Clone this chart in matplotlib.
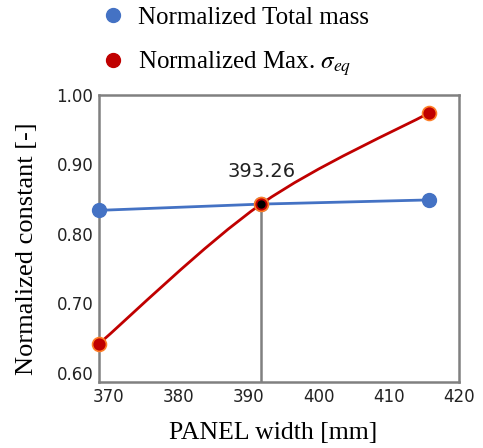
import numpy as np
import matplotlib
matplotlib.use('Agg')
import matplotlib.pyplot as plt
from matplotlib.lines import Line2D
from matplotlib.path import Path
from matplotlib.patches import PathPatch

plt.rcParams['font.family'] = ['Liberation Serif', 'DejaVu Serif']
plt.rcParams['mathtext.fontset'] = 'stix'

# data
width = [368.7, 391.8, 415.7]
total_mass = [0.834, 0.843, 0.849]
max_seq = [0.642, 0.843, 0.974]
cross_x = 391.8
cross_y = 0.843
cross_label = '393.26'

blue = '#4472C4'
red = '#C00000'
grey = '#808080'


def smooth_path(x, y):
    # excel-like smoothed line: catmull-rom as cubic bezier segments
    p = np.column_stack([x, y])
    n = len(p)
    verts = [p[0]]
    codes = [Path.MOVETO]
    for i in range(n - 1):
        p0 = p[max(i - 1, 0)]
        p1 = p[i]
        p2 = p[i + 1]
        p3 = p[min(i + 2, n - 1)]
        verts += [p1 + (p2 - p0) / 6, p2 - (p3 - p1) / 6, p2]
        codes += [Path.CURVE4] * 3
    return Path(verts, codes)


fig = plt.figure(figsize=(4.83, 4.48), dpi=100)
ax = fig.add_axes([99/483, 1-382/448, (459-99)/483, (382-95)/448])

ax.plot(width, total_mass, color=blue, lw=2, zorder=3)
ax.plot(width, total_mass, 'o', color=blue, ms=10, mec=blue, zorder=4, clip_on=False)

ax.add_patch(PathPatch(smooth_path(width, max_seq), fc='none', ec=red, lw=2, zorder=3))
ax.plot(width, max_seq, 'o', color=red, ms=10, mec='#FF7F27', mew=1.2, zorder=4, clip_on=False)

ax.plot([cross_x, cross_x], [0.587, cross_y], color=grey, lw=1.8, zorder=2)
ax.plot(cross_x, cross_y, 'o', color='black', ms=5, zorder=5)
ax.text(cross_x, cross_y + 0.047, cross_label, ha='center', va='center', fontsize=14,
        family='DejaVu Sans', color='#222222')

ax.set_xlim(368.7, 420)
ax.set_ylim(0.587, 1.0)
ax.set_xticks([370, 380, 390, 400, 410, 420])
ax.set_yticks([0.6, 0.7, 0.8, 0.9, 1.0])
ax.set_yticklabels(['0.60', '0.70', '0.80', '0.90', '1.00'])
ax.tick_params(length=0, labelsize=12, pad=4, labelcolor='#222222')
for lab in ax.get_xticklabels() + ax.get_yticklabels():
    lab.set_family('DejaVu Sans')
for s in ax.spines.values():
    s.set_color(grey)
    s.set_linewidth(1.8)

ax.set_xlabel('PANEL width [mm]', fontsize=18.5, labelpad=12)
ax.xaxis.set_label_coords((273 - 99) / 360, -(433 - 382) / 287)
ax.set_ylabel('Normalized constant [-]', fontsize=19)
ax.yaxis.set_label_coords(-(99 - 27) / 360, (382 - 249) / 287)
ax.xaxis.label.set_va('center')
ax.yaxis.label.set_va('center')

handles = [
    Line2D([], [], ls='none', marker='o', color=blue, ms=10, label='Normalized Total mass'),
    Line2D([], [], ls='none', marker='o', color=red, ms=10, label=r'Normalized Max. $\boldsymbol{\sigma_{eq}}$'),
]
fig.legend(handles=handles, loc='upper left', bbox_to_anchor=(98/483, 1 - 4/448), frameon=False,
           fontsize=18, handletextpad=0.5, labelspacing=0.8, handlelength=1.0,
           borderpad=0.1, borderaxespad=0)

fig.savefig('out.png', dpi=100)
